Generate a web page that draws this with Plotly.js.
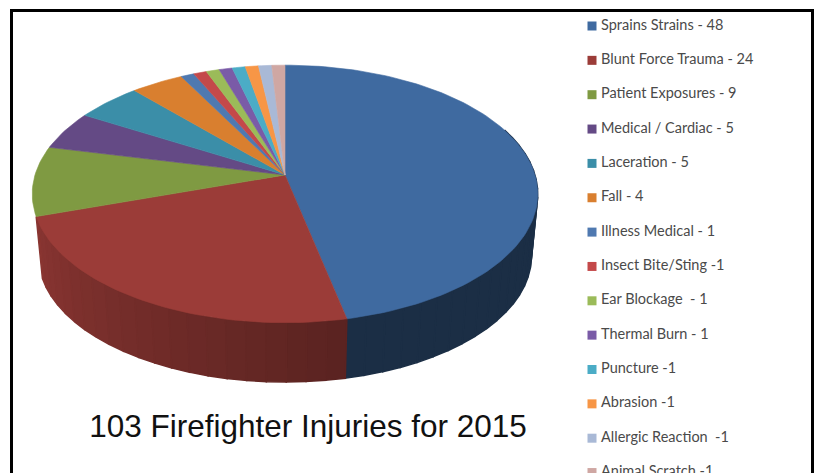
<!DOCTYPE html>
<html><head><meta charset="utf-8">
<script src="https://cdn.plot.ly/plotly-3.0.1.min.js"></script>
<style>html,body{margin:0;padding:0;background:#fff;overflow:hidden}#c{width:818px;height:473px}</style>
</head><body><div id="c"></div>
<script>
var categories = ["Sprains Strains","Blunt Force Trauma","Patient Exposures","Medical / Cardiac","Laceration","Fall","Illness Medical","Insect Bite/Sting","Ear Blockage","Thermal Burn","Puncture","Abrasion","Allergic Reaction","Animal Scratch"];
var values = [48,24,9,5,5,4,1,1,1,1,1,1,1,1];
var legendLabels = ["Sprains Strains - 48","Blunt Force Trauma - 24","Patient Exposures - 9","Medical / Cardiac - 5","Laceration - 5","Fall - 4","Illness Medical - 1","Insect Bite/Sting -1","Ear Blockage  - 1","Thermal Burn - 1","Puncture -1","Abrasion -1","Allergic Reaction  -1","Animal Scratch -1"];
var colors = ["#3f6aa0","#9b3c38","#7f9a42","#644a85","#3b8ea8","#d97f2f","#4f79b0","#c4494a","#9bbb59","#7a5ba7","#4bacc6","#f79646","#a9b9d6","#cfa7a3"];
var chartTitle = "103 Firefighter Injuries for 2015";

// perspective projection of the pie disc into the (pixel-ranged) axes
var CX=285, CY=175, A=250, B=126, P=0.147, BASE_S=0.975, BASE_DY=63;
function project(deg, r, s, dy){
  var t=deg*Math.PI/180, u=r*Math.sin(t), v=r*Math.cos(t), d=1+P*v;
  return [CX+A*s*u/d, CY-B*s*v/d+dy];
}
function hex(c,f){
  var n=parseInt(c.slice(1),16);
  return "rgb("+Math.round((n>>16&255)*f)+","+Math.round((n>>8&255)*f)+","+Math.round((n&255)*f)+")";
}
var total=values.reduce(function(a,b){return a+b},0), traces=[], starts=[], cum=0;
values.forEach(function(v){starts.push(cum/total*360);cum+=v;});
starts.push(360);

// side wall strips, back to front (only the two front slices show a wall)
var strips=[];
values.slice(0,2).forEach(function(v,i){
  var a0=starts[i], a1=starts[i+1], n=Math.max(1,Math.ceil((a1-a0)/4));
  for(var k=0;k<n;k++){
    strips.push({i:i,a:a0+(a1-a0)*k/n,b:a0+(a1-a0)*(k+1)/n});
  }
});
strips.filter(function(s){return Math.cos((s.a+s.b)/2*Math.PI/180)<0.35;})
 .sort(function(p,q){return Math.cos((q.a+q.b)/360*Math.PI)-Math.cos((p.a+p.b)/360*Math.PI);})
 .forEach(function(s){
  var m=(s.a+s.b)/2, f=s.i===0?0.43:0.58+Math.min(1,(m-168)/92)*0.34;
  var p=[project(s.a,1,1,0),project(s.b,1,1,0),project(s.b,1,BASE_S,BASE_DY),project(s.a,1,BASE_S,BASE_DY)];
  var c=hex(colors[s.i],f);
  traces.push({type:"scatter",mode:"lines",x:p.map(function(q){return q[0]}).concat(p[0][0]),y:p.map(function(q){return q[1]}).concat(p[0][1]),fill:"toself",fillcolor:c,line:{color:c,width:1.5},hoverinfo:"skip"});
});

// top faces
values.forEach(function(v,i){
  var xs=[CX], ys=[CY], a0=starts[i], a1=starts[i+1], n=Math.max(4,Math.ceil((a1-a0)/1.5));
  for(var k=0;k<=n;k++){var q=project(a0+(a1-a0)*k/n,1,1,0);xs.push(q[0]);ys.push(q[1]);}
  xs.push(CX);ys.push(CY);
  traces.push({type:"scatter",mode:"lines",name:categories[i],x:xs,y:ys,fill:"toself",fillcolor:colors[i],line:{color:colors[i],width:0.6},hoverinfo:"name"});
});

// legend rows
var rowsY=categories.map(function(c,i){return 26+34.35*i;});
traces.push({type:"scatter",mode:"markers",x:categories.map(function(){return 592}),y:rowsY,marker:{symbol:"square",size:9,color:colors},hoverinfo:"skip"});
traces.push({type:"scatter",mode:"text",x:categories.map(function(){return 601}),y:rowsY,text:legendLabels,textposition:"middle right",textfont:{family:"Lato, 'Open Sans', sans-serif",size:14.5,color:"#4a4a4a"},hoverinfo:"skip"});

Plotly.newPlot("c",traces,{
  width:818,height:473,margin:{l:0,r:0,t:0,b:0},showlegend:false,
  paper_bgcolor:"#fff",plot_bgcolor:"#fff",
  xaxis:{range:[0,818],visible:false,fixedrange:true},
  yaxis:{range:[473,0],visible:false,fixedrange:true},
  title:{text:chartTitle,font:{family:"Liberation Sans, Arial, sans-serif",size:31.5,color:"#111"},x:308/818,xanchor:"center",y:1-426/473,yanchor:"middle"},
  shapes:[{type:"rect",xref:"x",yref:"y",x0:11.5,y0:10.5,x1:812.5,y1:495,line:{color:"#000",width:3},fillcolor:"rgba(0,0,0,0)",layer:"above"}]
},{displayModeBar:false});
</script></body></html>
